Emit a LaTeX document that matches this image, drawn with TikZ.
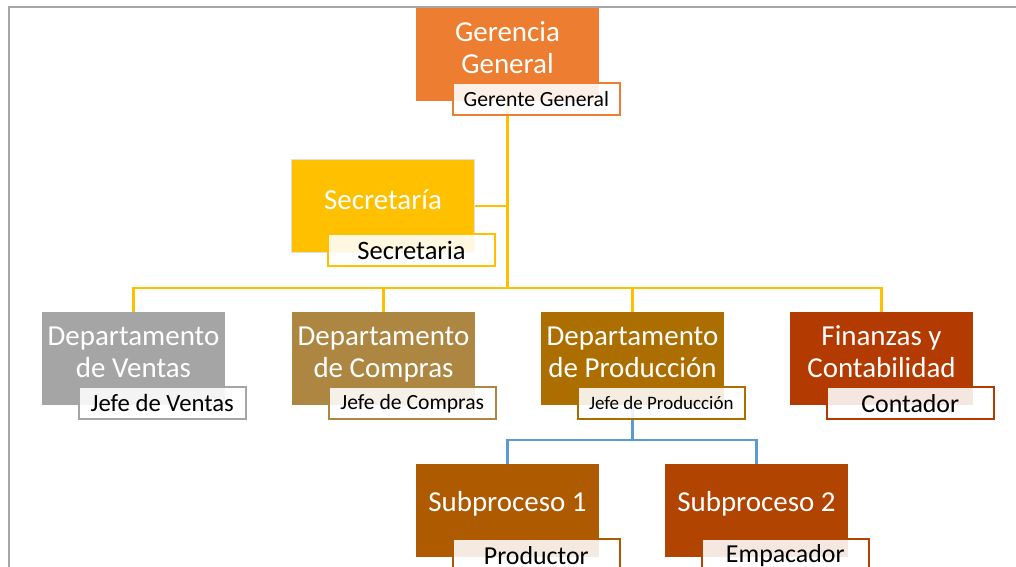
\documentclass[tikz,border=0pt]{standalone}
\usepackage{fontspec}
\setmainfont{Carlito}
\usepackage{tikz}
\usetikzlibrary{positioning,backgrounds}

\definecolor{cGG}{HTML}{ED7D31}
\definecolor{cSec}{HTML}{FFC000}
\definecolor{cVen}{HTML}{A5A5A5}
\definecolor{cCom}{HTML}{AD8642}
\definecolor{cPro}{HTML}{AD6E00}
\definecolor{cFin}{HTML}{B33A00}
\definecolor{cSubA}{HTML}{AE5A00}
\definecolor{cSubB}{HTML}{B04400}
\definecolor{cFrame}{HTML}{A6A6A6}
\definecolor{cBlue}{HTML}{5B9BD5}

\begin{document}
\begin{tikzpicture}[
  unit/.style={minimum width=4.575cm, minimum height=2.325cm, inner sep=0pt},
  utext/.style={text=white, align=center, font=\fontsize{20.6}{22.7}\selectfont},
  role/.style={draw, line width=1.5pt, fill=white, fill opacity=0.88, text opacity=1,
    minimum width=4.175cm, minimum height=0.8cm, inner sep=0pt, anchor=north west},
  yconn/.style={draw=cSec, line width=1.7pt},
  bconn/.style={draw=cBlue, line width=1.7pt}
]
  \clip (0,0) rectangle (25.4,14.175);
  \useasboundingbox (0,0) rectangle (25.4,14.175);

  % boxes
  \node[unit, fill=cGG] (gg) at (12.6875,12.8125) {};
  \node[unit, fill=cSec, draw=black!12, line width=0.8pt] (sec) at (9.575,9.025) {};
  \node[unit, fill=cVen] (ven) at (3.3375,5.2125) {};
  \node[unit, fill=cCom] (com) at (9.5875,5.2125) {};
  \node[unit, fill=cPro] (pro) at (15.8125,5.2125) {};
  \node[unit, fill=cFin] (fin) at (22.0375,5.2125) {};
  \node[unit, fill=cSubA] (sub1) at (12.6875,1.4125) {};
  \node[unit, fill=cSubB] (sub2) at (18.9125,1.4125) {};

  \node[utext] (gg-t) at ([yshift=1.6mm]gg) {Gerencia\\General};
  \node[utext] (sec-t) at ([yshift=1.6mm]sec) {Secretaría};
  \node[utext] (ven-t) at ([yshift=1.6mm]ven) {Departamento\\de Ventas};
  \node[utext] (com-t) at ([yshift=1.1mm]com) {Departamento\\de Compras};
  \node[utext] (pro-t) at ([yshift=1.6mm]pro) {Departamento\\de Producción};
  \node[utext] (fin-t) at ([yshift=1.6mm]fin) {Finanzas y\\Contabilidad};
  \node[utext] (sub1-t) at ([yshift=1.6mm]sub1) {Subproceso 1};
  \node[utext] (sub2-t) at ([yshift=1.6mm]sub2) {Subproceso 2};

  % role labels
  \node[role, draw=cGG, font=\fontsize{15.4}{16}\selectfont] (gg-r) at ([xshift=0.9cm,yshift=0.475cm]gg.south west) {Gerente General};
  \node[role, draw=cSec, font=\fontsize{18.9}{20}\selectfont] (sec-r) at ([xshift=0.9cm,yshift=0.5cm]sec.south west) {Secretaria};
  \node[role, draw=cVen, font=\fontsize{17.6}{18}\selectfont] (ven-r) at ([xshift=0.9cm,yshift=0.475cm]ven.south west) {Jefe de Ventas};
  \node[role, draw=cCom, font=\fontsize{15.4}{16}\selectfont] (com-r) at ([xshift=0.9cm,yshift=0.475cm]com.south west) {Jefe de Compras};
  \node[role, draw=cPro, font=\fontsize{13.5}{14}\selectfont] (pro-r) at ([xshift=0.9cm,yshift=0.475cm]pro.south west) {Jefe de Producción};
  \node[role, draw=cFin, font=\fontsize{18.4}{20}\selectfont] (fin-r) at ([xshift=0.9cm,yshift=0.475cm]fin.south west) {Contador};
  \node[role, draw=cSubA, font=\fontsize{18.4}{20}\selectfont] (sub1-r) at ([xshift=0.9cm,yshift=0.475cm]sub1.south west) {Productor};
  \node[role, draw=cSubB, font=\fontsize{18.4}{20}\selectfont] (sub2-r) at ([xshift=0.9cm,yshift=0.475cm]sub2.south west) {Empacador};

  \coordinate (bus) at (12.6875,6.975);
  \coordinate (pbus) at (15.8125,3.175);

  \begin{scope}[on background layer]
    \draw[cFrame, line width=1.6pt] (0.225,0) -- (0.225,14.0) -- (25.4,14.0);
    \draw[yconn] (gg.south) -- (bus);
    \draw[yconn] (sec.east) -- (sec.east -| gg.south);
    \draw[yconn] (bus) -| (ven.north);
    \draw[yconn] (bus) -| (com.north);
    \draw[yconn] (bus) -| (pro.north);
    \draw[yconn] (bus) -| (fin.north);
    \draw[bconn] (pro.south) -- (pbus);
    \draw[bconn] (pbus) -| (sub1.north);
    \draw[bconn] (pbus) -| (sub2.north);
  \end{scope}
\end{tikzpicture}
\end{document}
